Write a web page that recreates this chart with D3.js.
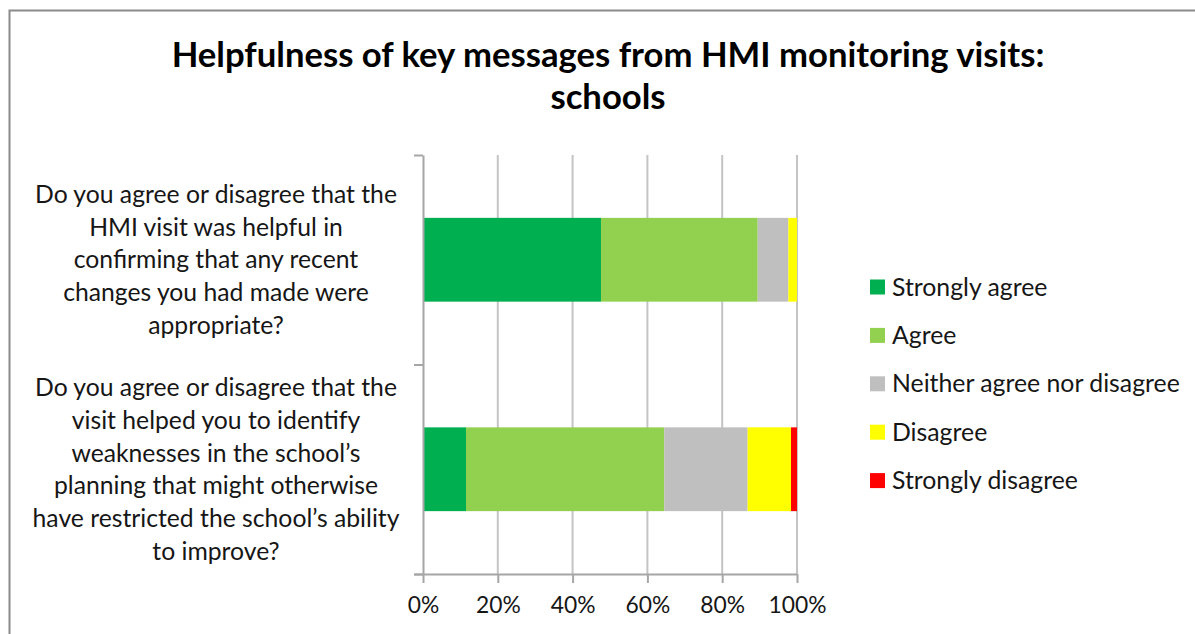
<!DOCTYPE html>
<html>
<head>
<meta charset="utf-8">
<script src="https://cdn.jsdelivr.net/npm/d3@7"></script>
<style>
  html, body { margin: 0; padding: 0; background: #fff; }
  svg { display: block; }
</style>
</head>
<body>
<svg id="chart"></svg>
<script>
const width = 1195, height = 634;

// Data
const titleLines = ["Helpfulness of key messages from HMI monitoring visits:", "schools"];
const categories = [
  ["Do you agree or disagree that the", "HMI visit was helpful in", "confirming that any recent", "changes you had made were", "appropriate?"],
  ["Do you agree or disagree that the", "visit helped you to identify", "weaknesses in the school\u2019s", "planning that might otherwise", "have restricted the school\u2019s ability", "to improve?"]
];
const seriesNames = ["Strongly agree", "Agree", "Neither agree nor disagree", "Disagree", "Strongly disagree"];
const stronglyAgree = [47.6, 11.5];
const agree = [41.9, 53.0];
const neither = [8.2, 22.3];
const disagree = [2.3, 11.6];
const stronglyDisagree = [0, 1.6];
const seriesColors = ["#00B050", "#92D050", "#BFBFBF", "#FFFF00", "#FF0000"];
const xTicks = [0, 20, 40, 60, 80, 100];

const seriesValues = [stronglyAgree, agree, neither, disagree, stronglyDisagree];
const rows = categories.map((c, i) => {
  let r = { key: i };
  seriesNames.forEach((s, j) => r[s] = seriesValues[j][i]);
  return r;
});

const font = "Lato, 'Open Sans', sans-serif";
const textCol = "#161616";
const margin = { top: 155, right: 398, bottom: 60, left: 423 };

let svg = d3.select("#chart")
  .attr("width", width)
  .attr("height", height)
  .attr("viewBox", [0, 0, width, height]);

// size a font so a reference string reaches a target width
function fitSize(text, target, weight) {
  let t = svg.append("text")
    .style("font-family", font)
    .style("font-weight", weight || "normal")
    .style("font-size", "100px")
    .text(text);
  let w = t.node().getComputedTextLength();
  t.remove();
  return 100 * target / w;
}

const titleSize = fitSize(titleLines[0], 873, "bold");
const labelSize = fitSize(categories[0][0], 362);
const legendSize = fitSize(seriesNames[2], 288);
const tickSize = fitSize("100%", 58);

// Chart frame
svg.append("path")
  .attr("d", `M9.5,${height} V10.5 H${width}`)
  .attr("fill", "none")
  .attr("stroke", "#8a8a8a")
  .attr("stroke-width", 2);

// Scales
let x = d3.scaleLinear()
  .domain([0, 100])
  .range([margin.left, width - margin.right]);

let y = d3.scaleBand()
  .domain(rows.map(d => d.key))
  .range([margin.top, height - margin.bottom])
  .paddingInner(0.6)
  .paddingOuter(0.3);

let yEdge = d3.scaleLinear()
  .domain([0, categories.length])
  .range([margin.top, height - margin.bottom]);

// Gridlines
svg.append("g")
  .selectAll("line")
  .data(xTicks.slice(1))
  .join("line")
  .attr("x1", d => x(d)).attr("x2", d => x(d))
  .attr("y1", margin.top).attr("y2", height - margin.bottom)
  .attr("stroke", "#c4c4c4")
  .attr("stroke-width", 2);

// Stacked bars
let stack = d3.stack().keys(seriesNames)(rows);

svg.append("g")
  .selectAll("g")
  .data(stack)
  .join("g")
  .attr("fill", (d, i) => seriesColors[i])
  .selectAll("rect")
  .data(d => d)
  .join("rect")
  .attr("x", d => x(d[0]))
  .attr("width", d => x(d[1]) - x(d[0]))
  .attr("y", d => y(d.data.key))
  .attr("height", y.bandwidth());

// X axis
let xAxis = d3.axisBottom(x)
  .tickValues(xTicks)
  .tickFormat(d => d + "%")
  .tickSizeInner(9)
  .tickSizeOuter(0)
  .tickPadding(14);

let gx = svg.append("g")
  .attr("transform", `translate(0,${height - margin.bottom})`)
  .call(xAxis);
gx.select(".domain").attr("d", `M${margin.left - 9},0.5H${x(100)}`);
gx.selectAll("text")
  .style("font-family", font)
  .style("font-size", tickSize + "px")
  .style("fill", textCol);

// Y axis (category boundaries)
let yAxis = d3.axisLeft(yEdge)
  .ticks(categories.length)
  .tickFormat("")
  .tickSizeInner(9)
  .tickSizeOuter(0);

svg.append("g")
  .attr("transform", `translate(${margin.left},0)`)
  .call(yAxis);

svg.selectAll(".tick line, path.domain")
  .attr("stroke", "#a6a6a6")
  .attr("stroke-width", 2);

// Category labels
const lineHeight = 32.8;
categories.forEach((lines, i) => {
  let cy = y(i) + y.bandwidth() / 2;
  let t = svg.append("text")
    .attr("text-anchor", "middle")
    .style("font-family", font)
    .style("font-size", labelSize + "px")
    .style("fill", textCol);
  lines.forEach((ln, k) => {
    t.append("tspan")
      .attr("x", 216)
      .attr("y", cy + (k - (lines.length - 1) / 2) * lineHeight)
      .attr("dy", "0.35em")
      .text(ln);
  });
});

// Title
svg.append("text")
  .attr("text-anchor", "middle")
  .style("font-family", font)
  .style("font-weight", "bold")
  .style("font-size", titleSize + "px")
  .style("fill", "#000")
  .selectAll("tspan")
  .data(titleLines)
  .join("tspan")
  .attr("x", 608)
  .attr("y", (d, i) => 67 + i * 42)
  .text(d => d);

// Legend
let legend = svg.append("g")
  .selectAll("g")
  .data(seriesNames)
  .join("g")
  .attr("transform", (d, i) => `translate(870,${287 + i * 48.4})`);

legend.append("rect")
  .attr("x", 0).attr("y", -7.5)
  .attr("width", 15).attr("height", 15)
  .attr("fill", (d, i) => seriesColors[i]);

legend.append("text")
  .attr("x", 22)
  .attr("dy", "0.35em")
  .style("font-family", font)
  .style("font-size", legendSize + "px")
  .style("fill", textCol)
  .text(d => d);
</script>
</body>
</html>
